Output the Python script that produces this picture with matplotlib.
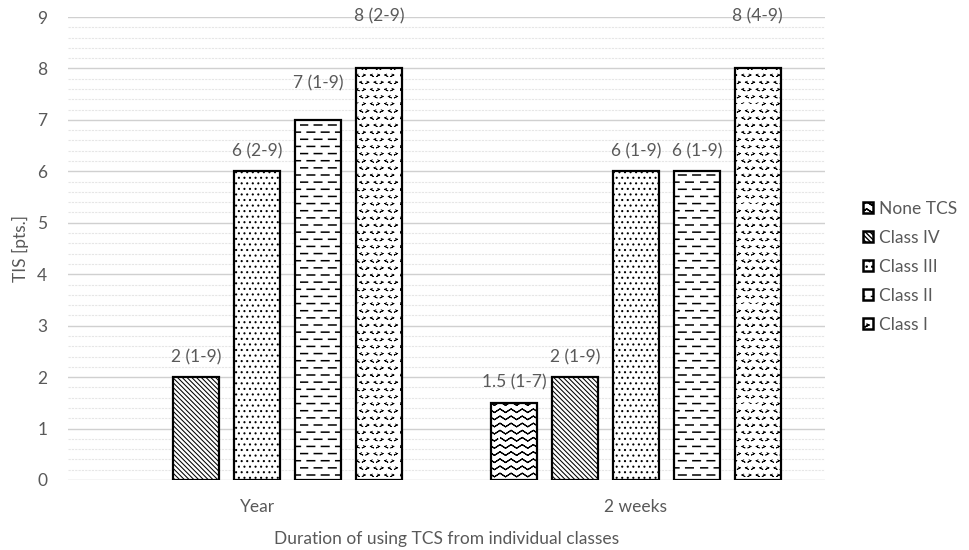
import matplotlib
matplotlib.use("Agg")
import warnings
import matplotlib.pyplot as plt
import matplotlib.hatch as mhatch
from matplotlib.path import Path
from matplotlib.patches import Patch
import numpy as np
from matplotlib.ticker import MultipleLocator

warnings.filterwarnings("ignore")

categories = ["Year", "2 weeks"]
series = ["None TCS", "Class IV", "Class III", "Class II", "Class I"]
values = {
    "None TCS": [np.nan, 1.5],
    "Class IV": [2, 2],
    "Class III": [6, 6],
    "Class II": [7, 6],
    "Class I": [8, 8],
}
labels = {
    "None TCS": ["", "1.5 (1-7)"],
    "Class IV": ["2 (1-9)", "2 (1-9)"],
    "Class III": ["6 (2-9)", "6 (1-9)"],
    "Class II": ["7 (1-9)", "6 (1-9)"],
    "Class I": ["8 (2-9)", "8 (4-9)"],
}
# label vertical offsets (points) – style, not data
label_offsets = {
    "None TCS": [14.5, 14.5],
    "Class IV": [14.5, 14.5],
    "Class III": [14.5, 14.5],
    "Class II": [26.5, 14.5],
    "Class I": [37.5, 37.5],
}
hatches = ["w", "\\" * 7, "...", "d", "c"]
hatch_lw = [0.8, 0.75, 0.75, 1.1, 0.6]


# ---- custom hatch patterns (zero-area paths so Agg's fill adds nothing) ----
class WaveHatch(mhatch.HatchPatternBase):
    def __init__(self, hatch, density):
        self.rows = 14 if "w" in hatch else 0
        self.periods = 9
        n = 2 * self.periods + 1
        self.num_vertices = self.rows * (2 * n - 1)

    def set_vertices_and_codes(self, vertices, codes):
        n = 2 * self.periods + 1
        xs = np.linspace(0, 1, n)
        amp = 0.018
        m = 2 * n - 1
        k = 0
        for r in range(self.rows):
            y0 = (r + 0.5) / self.rows
            ys = y0 + amp * np.where(np.arange(n) % 2 == 0, 1, -1)
            px = np.concatenate([xs, xs[::-1][1:]])
            py = np.concatenate([ys, ys[::-1][1:]])
            vertices[k:k + m, 0] = px
            vertices[k:k + m, 1] = py
            codes[k] = Path.MOVETO
            codes[k + 1:k + m] = Path.LINETO
            k += m


class DashHatch(mhatch.HatchPatternBase):
    def __init__(self, hatch, density):
        self.rows = 14 if "d" in hatch else 0
        self.per = 7
        self.num_vertices = self.rows * (self.per + 1) * 2

    def set_vertices_and_codes(self, vertices, codes):
        k = 0
        L = 0.075
        p = 1.0 / self.per
        for r in range(self.rows):
            y = (r + 0.5) / self.rows
            off = 0 if r % 2 == 0 else p / 2
            for j in range(-1, self.per):
                x0 = off + j * p
                vertices[k] = (x0, y)
                vertices[k + 1] = (x0 + L, y)
                codes[k] = Path.MOVETO
                codes[k + 1] = Path.LINETO
                k += 2


class ChevronHatch(mhatch.HatchPatternBase):
    def __init__(self, hatch, density):
        self.n = 14 if "c" in hatch else 0
        self.num_vertices = self.n * self.n * 4

    def set_vertices_and_codes(self, vertices, codes):
        k = 0
        s = 0.009
        for r in range(self.n):
            for c in range(self.n):
                x = (c + 0.5 + (0.5 if r % 2 else 0)) / self.n
                x = x % 1.0
                y = (r + 0.5) / self.n
                d = s if (r + c) % 2 == 0 else -s
                vertices[k] = (x + d, y + s)
                vertices[k + 1] = (x - d, y)
                vertices[k + 2] = (x + d, y - s)
                vertices[k + 3] = (x - d, y)
                codes[k] = Path.MOVETO
                codes[k + 1:k + 4] = Path.LINETO
                k += 4


mhatch._hatch_types.extend([WaveHatch, DashHatch, ChevronHatch])

plt.rcParams['font.family'] = ['Lato', 'DejaVu Sans']
gray = "#595959"
fs = 12.5

fig = plt.figure(figsize=(9.69, 5.5), dpi=100)
ax = fig.add_axes([68/969, 70/550, (825-68)/969, (480-17)/550])


def set_hlw(p, lw):
    try:
        p.set_hatch_linewidth(lw)
    except AttributeError:
        p._hatch_linewidth = lw


x = np.arange(len(categories))
step = 0.161
width = 0.122
handles = []
for i, s in enumerate(series):
    pos = x + (i - 2) * step
    vals = np.array(values[s], dtype=float)
    mask = ~np.isnan(vals)
    bars = ax.bar(pos[mask], vals[mask], width, facecolor="white", edgecolor="black",
                  linewidth=1.6, hatch=hatches[i], zorder=3)
    for b in bars:
        set_hlw(b, hatch_lw[i])
    for b, v, lab, off in zip(bars, vals[mask], np.array(labels[s])[mask],
                              np.array(label_offsets[s])[mask]):
        ax.annotate(lab, (b.get_x() + b.get_width() / 2, v), xytext=(0, off),
                    textcoords="offset points", ha="center", va="center",
                    fontsize=fs, color=gray, annotation_clip=False)
    h = Patch(facecolor="white", edgecolor="black", linewidth=1.8,
              hatch=hatches[i], label=s)
    set_hlw(h, hatch_lw[i])
    handles.append(h)

ax.set_xlim(-0.5, 1.5)
ax.set_ylim(0, 9)
ax.set_xticks(x)
ax.set_xticklabels(categories)
ax.yaxis.set_major_locator(MultipleLocator(1))
ax.yaxis.set_minor_locator(MultipleLocator(0.2))
ax.grid(axis="y", which="major", color="#d0d0d0", linewidth=1.0, zorder=0)
ax.grid(axis="y", which="minor", color="#e6e6e6", linewidth=0.8, linestyle=(0, (2, 1)), zorder=0)
for sp in ax.spines.values():
    sp.set_visible(False)
ax.tick_params(axis="both", which="both", length=0, colors=gray, labelsize=fs)
ax.tick_params(axis="y", pad=15)
ax.tick_params(axis="x", pad=14)
ax.set_ylabel("TIS [pts.]", color=gray, fontsize=fs, labelpad=6)
ax.set_xlabel("Duration of using TCS from individual classes", color=gray, fontsize=fs, labelpad=11)

leg = fig.legend(handles=handles, loc="center left", bbox_to_anchor=(847/969, 1 - 267/550),
                 frameon=False, fontsize=fs, labelcolor=gray, handlelength=0.6,
                 handleheight=0.6, handletextpad=0.35, labelspacing=0.75)

fig.savefig("out.png", dpi=100)
